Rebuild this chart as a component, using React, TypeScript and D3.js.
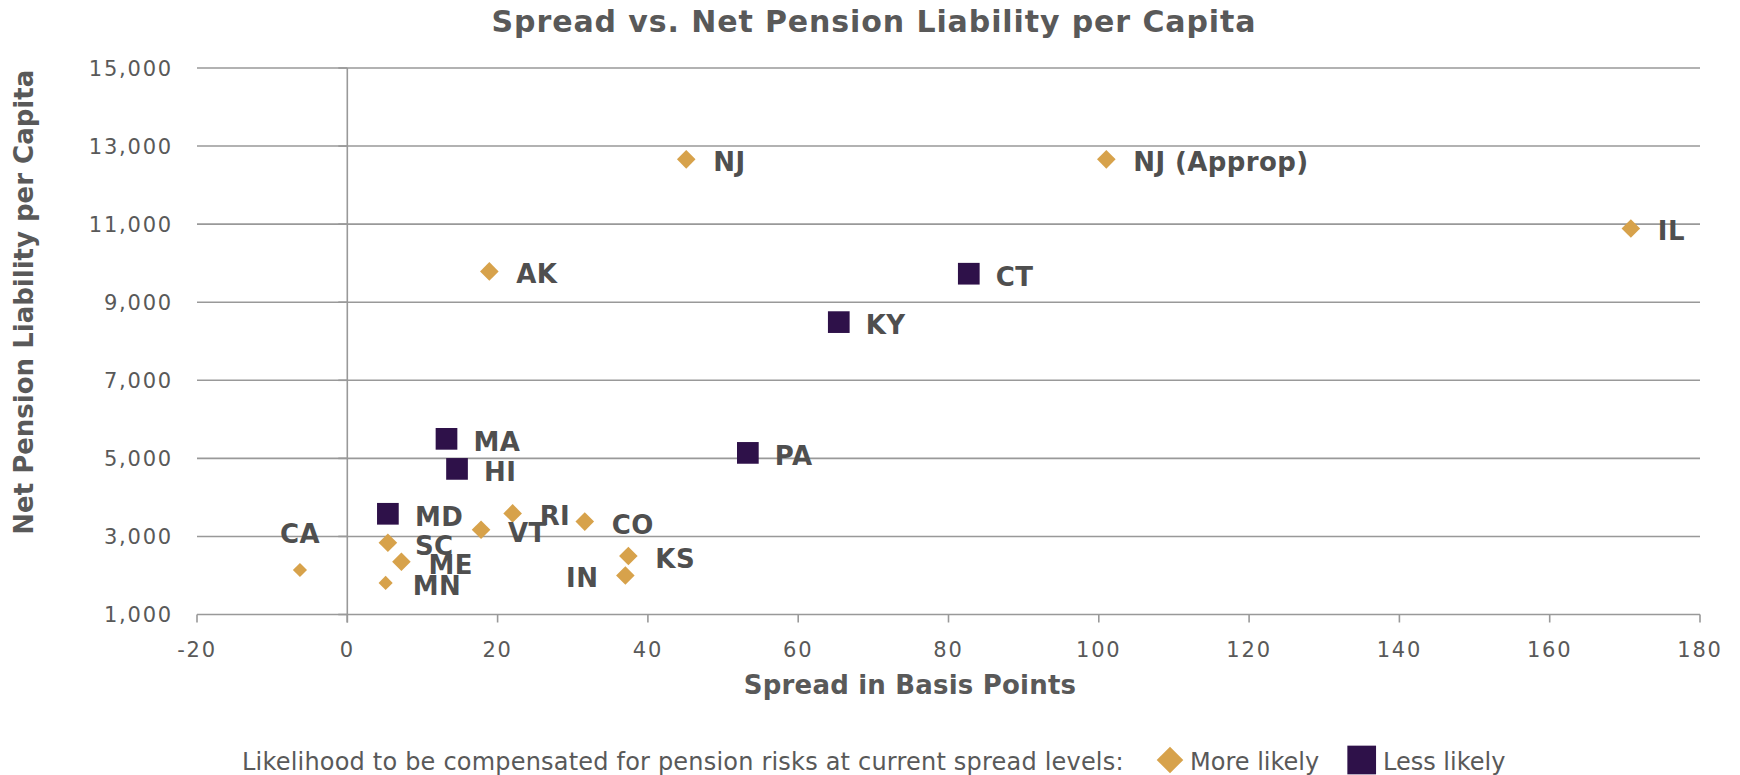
import React from 'react';
import * as d3 from 'd3';

const W = 1740;
const H = 775;
const MARGIN = { top: 68, right: 40, bottom: 160.5, left: 197 };

const STATES = ['NJ', 'NJ (Approp)', 'IL', 'AK', 'CT', 'KY', 'PA', 'MA', 'HI', 'MD', 'SC', 'ME', 'MN', 'VT', 'RI', 'CO', 'KS', 'IN', 'CA'];
const SPREADS = [45.1, 101.0, 170.8, 18.9, 82.7, 65.4, 53.3, 13.2, 14.6, 5.4, 5.4, 7.2, 5.1, 17.8, 22.0, 31.6, 37.4, 37.0, -6.3];
const LIABILITIES = [12660, 12660, 10890, 9790, 9730, 8490, 5140, 5500, 4730, 3580, 2840, 2350, 1810, 3170, 3590, 3380, 2500, 2000, 2140];
const LIKELIHOOD = ['More', 'More', 'More', 'More', 'Less', 'Less', 'Less', 'Less', 'Less', 'Less', 'More', 'More', 'More', 'More', 'More', 'More', 'More', 'More', 'More'];

const X_TICKS = [-20, 0, 20, 40, 60, 80, 100, 120, 140, 160, 180];
const Y_TICKS = [1000, 3000, 5000, 7000, 9000, 11000, 13000, 15000];

const SMALL_MARKERS = new Set(['CA', 'MN']);
const LABEL_SIDE: Record<string, string> = { IN: 'left', CA: 'top' };

const GOLD = '#D7A24B';
const PURPLE = '#2E1149';
const GRID = '#999999';
const TEXT = '#595959';
const LABEL = '#4f4f4f';

const fmt = d3.format(',');

export default function App() {
  const innerW = W - MARGIN.left - MARGIN.right;
  const innerH = H - MARGIN.top - MARGIN.bottom;

  const x = d3.scaleLinear().domain([-20, 180]).range([MARGIN.left, MARGIN.left + innerW]);
  const y = d3.scaleLinear().domain([1000, 15000]).range([MARGIN.top + innerH, MARGIN.top]);

  const diamond = d3.symbol().type(d3.symbolDiamond2);
  const square = d3.symbol().type(d3.symbolSquare);

  const points = STATES.map((s, i) => ({
    name: s,
    spread: SPREADS[i],
    liab: LIABILITIES[i],
    kind: LIKELIHOOD[i],
  }));

  const x0 = x(0);
  const yBottom = y(1000);

  return (
    <>
      <style>{'body{margin:0;}'}</style>
      <svg width={W} height={H} style={{ display: 'block', background: '#fff' }}>
        <text
          x={874} y={31.7} textAnchor="middle"
          fontFamily="DejaVu Sans" fontWeight="bold" fontSize={30} letterSpacing={0.9} fill={TEXT}
        >
          Spread vs. Net Pension Liability per Capita
        </text>

        {/* horizontal gridlines */}
        {Y_TICKS.map(t => (
          <line key={'g' + t} x1={x(-20)} x2={x(180)} y1={y(t)} y2={y(t)} stroke={GRID} strokeWidth={1.6} />
        ))}

        {/* vertical axis at x = 0 */}
        <line x1={x0} x2={x0} y1={y(15000)} y2={yBottom + 8} stroke={GRID} strokeWidth={1.6} />
        {Y_TICKS.map(t => (
          <line key={'yt' + t} x1={x0 - 9} x2={x0} y1={y(t)} y2={y(t)} stroke={GRID} strokeWidth={1.6} />
        ))}
        {X_TICKS.map(t => (
          <line key={'xt' + t} x1={x(t)} x2={x(t)} y1={yBottom} y2={yBottom + 8} stroke={GRID} strokeWidth={1.6} />
        ))}

        {/* tick labels */}
        {Y_TICKS.map(t => (
          <text
            key={'yl' + t} x={173} y={y(t) + 7.5} textAnchor="end"
            fontFamily="DejaVu Sans" fontSize={21} letterSpacing={1.8} fill={TEXT}
          >
            {fmt(t)}
          </text>
        ))}
        {X_TICKS.map(t => (
          <text
            key={'xl' + t} x={x(t)} y={657} textAnchor="middle"
            fontFamily="DejaVu Sans" fontSize={21} letterSpacing={1.8} fill={TEXT}
          >
            {t}
          </text>
        ))}

        {/* axis titles */}
        <text
          x={910} y={694} textAnchor="middle"
          fontFamily="DejaVu Sans" fontWeight="bold" fontSize={26} letterSpacing={0.2} fill={TEXT}
        >
          Spread in Basis Points
        </text>
        <text
          transform={`translate(33,${(y(15000) + yBottom) / 2 - 39}) rotate(-90)`} textAnchor="middle"
          fontFamily="DejaVu Sans" fontWeight="bold" fontSize={26} fill={TEXT}
        >
          Net Pension Liability per Capita
        </text>

        {/* markers */}
        {points.map(p => {
          const small = SMALL_MARKERS.has(p.name);
          const path = p.kind === 'More'
            ? diamond.size(small ? 2 * 8 * 8 : 2 * 10.5 * 10.5)()
            : square.size(21.7 * 21.7)();
          return (
            <path
              key={'m' + p.name}
              d={path || ''}
              transform={`translate(${x(p.spread)},${y(p.liab)})`}
              fill={p.kind === 'More' ? GOLD : PURPLE}
            />
          );
        })}

        {/* point labels */}
        {points.map(p => {
          const side = LABEL_SIDE[p.name] || 'right';
          const px = x(p.spread);
          const py = y(p.liab);
          let lx = px + 27;
          let ly = py + 12;
          let anchor = 'start';
          if (side === 'left') { lx = px - 27; anchor = 'end'; }
          if (side === 'top') { lx = px; ly = py - 26.5; anchor = 'middle'; }
          return (
            <text
              key={'l' + p.name} x={lx} y={ly} textAnchor={anchor}
              fontFamily="DejaVu Sans" fontWeight="bold" fontSize={26} letterSpacing={0.4} fill={LABEL}
            >
              {p.name}
            </text>
          );
        })}

        {/* legend */}
        <text x={242} y={770} fontFamily="DejaVu Sans" fontSize={24} letterSpacing={0.2} fill={TEXT}>
          Likelihood to be compensated for pension risks at current spread levels:
        </text>
        <path d={diamond.size(2 * 15 * 15)() || ''} transform="translate(1170,760)" fill={GOLD} />
        <text x={1190} y={770} fontFamily="DejaVu Sans" fontSize={24} fill={TEXT}>More likely</text>
        <path d={square.size(28.7 * 28.7)() || ''} transform="translate(1361.7,760)" fill={PURPLE} />
        <text x={1383} y={770} fontFamily="DejaVu Sans" fontSize={24} fill={TEXT}>Less likely</text>
      </svg>
    </>
  );
}
